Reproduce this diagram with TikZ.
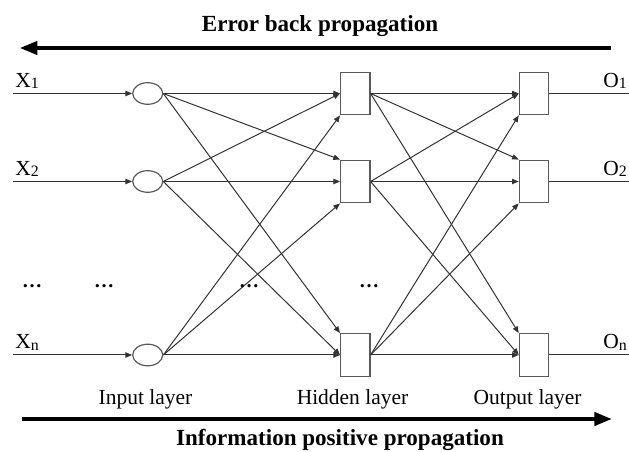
\documentclass[tikz,border=0pt]{standalone}
\usepackage{fontspec}
\setmainfont{Liberation Serif}
\usetikzlibrary{arrows.meta,shapes.geometric}
\begin{document}
\begin{tikzpicture}[x=0.75pt,y=-0.75pt,
  conn/.style={draw=black!80, line width=0.75pt, -{Triangle[length=5pt,width=4pt]}},
  plain/.style={draw=black!80, line width=0.75pt},
  neuron/.style={ellipse, draw=black!65, line width=0.9pt, minimum width=22.5pt, minimum height=16.2pt, inner sep=0pt},
  unit/.style={rectangle, draw=black!65, line width=0.9pt, minimum width=22pt, minimum height=32pt, inner sep=0pt},
  lbl/.style={font=\fontsize{16.1pt}{18pt}\selectfont, anchor=base, inner sep=0pt},
  sidelbl/.style={font=\fontsize{16.1pt}{18pt}\selectfont, anchor=base west, inner sep=0pt},
  dots/.style={font=\bfseries\fontsize{15pt}{18pt}\selectfont, anchor=base, inner sep=0pt},
  big/.style={font=\bfseries\fontsize{17.3pt}{20pt}\selectfont, anchor=base, inner sep=0pt},
  bigarrow/.style={draw=black, line width=2.4pt, -{Triangle[length=13pt,width=10pt]}}
]
\newcommand{\subs}[1]{\raisebox{-1pt}{\fontsize{11.9pt}{12pt}\selectfont #1}}
\useasboundingbox (0,0) rectangle (629,452);

% titles and big arrows
\node[big] (t1) at (320,31.7) {Error back propagation};
\coordinate (a1) at (611,48);
\coordinate (a2) at (20,48);
\draw[bigarrow] (a1) -- (a2);
\node[big] (t2) at (340,446) {Information positive propagation};
\coordinate (b1) at (21.7,419);
\coordinate (b2) at (611.7,419);
\draw[bigarrow] (b1) -- (b2);

% input layer
\node[neuron] (i1) at (147.7,93.5) {};
\node[neuron] (i2) at (147.7,181.5) {};
\node[neuron] (i3) at (147.7,355) {};
% hidden layer
\node[unit] (h1) at (355.3,93.5) {};
\node[unit] (h2) at (355.3,181.5) {};
\node[unit] (h3) at (355.3,355) {};
% output layer
\node[unit] (o1) at (534,93.5) {};
\node[unit] (o2) at (534,181.5) {};
\node[unit] (o3) at (534,355) {};

% input lines
\coordinate (s1) at (13.3,93.5);
\coordinate (s2) at (13.3,181.5);
\coordinate (s3) at (13.3,355);
\draw[conn] (s1) -- (i1.west);
\draw[conn] (s2) -- (i2.west);
\draw[conn] (s3) -- (i3.west);

% output lines
\coordinate (e1) at (629,93.5);
\coordinate (e2) at (629,181.5);
\coordinate (e3) at (629,355);
\draw[plain] (o1.east) -- (e1);
\draw[plain] (o2.east) -- (e2);
\draw[plain] (o3.east) -- (e3);

% input -> hidden
\draw[conn] (i1.east) -- (h1.west);
\draw[conn] (i1.east) -- (h2.north west);
\draw[conn] (i1.east) -- (h3.north west);
\draw[conn] (i2.east) -- (h1.west);
\draw[conn] (i2.east) -- (h2.west);
\draw[conn] (i2.east) -- (h3.west);
\draw[conn] (i3.east) -- (h1.south west);
\draw[conn] (i3.east) -- (h2.south west);
\draw[conn] (i3.east) -- (h3.west);

% hidden -> output
\draw[conn] (h1.east) -- (o1.west);
\draw[conn] (h1.east) -- (o2.north west);
\draw[conn] (h1.east) -- (o3.north west);
\draw[conn] (h2.east) -- (o1.west);
\draw[conn] (h2.east) -- (o2.west);
\draw[conn] (h2.east) -- (o3.west);
\draw[conn] (h3.east) -- (o1.south west);
\draw[conn] (h3.east) -- (o2.south west);
\draw[conn] (h3.east) -- (o3.west);

% side labels
\node[sidelbl] (x1) at (15,87.5) {X\subs{1}};
\node[sidelbl] (x2) at (15,175.5) {X\subs{2}};
\node[sidelbl] (x3) at (15,349) {X\subs{n}};
\node[sidelbl] (y1) at (603,87.5) {O\subs{1}};
\node[sidelbl] (y2) at (603,175.5) {O\subs{2}};
\node[sidelbl] (y3) at (603,349) {O\subs{n}};

% dots
\node[dots] (d1) at (32,288) {…};
\node[dots] (d2) at (104,288) {…};
\node[dots] (d3) at (249,288) {…};
\node[dots] (d4) at (369,288) {…};

% layer labels
\node[lbl] (l1) at (145.5,405) {Input layer};
\node[lbl] (l2) at (352.5,405) {Hidden layer};
\node[lbl] (l3) at (527.5,405) {Output layer};
\end{tikzpicture}
\end{document}
